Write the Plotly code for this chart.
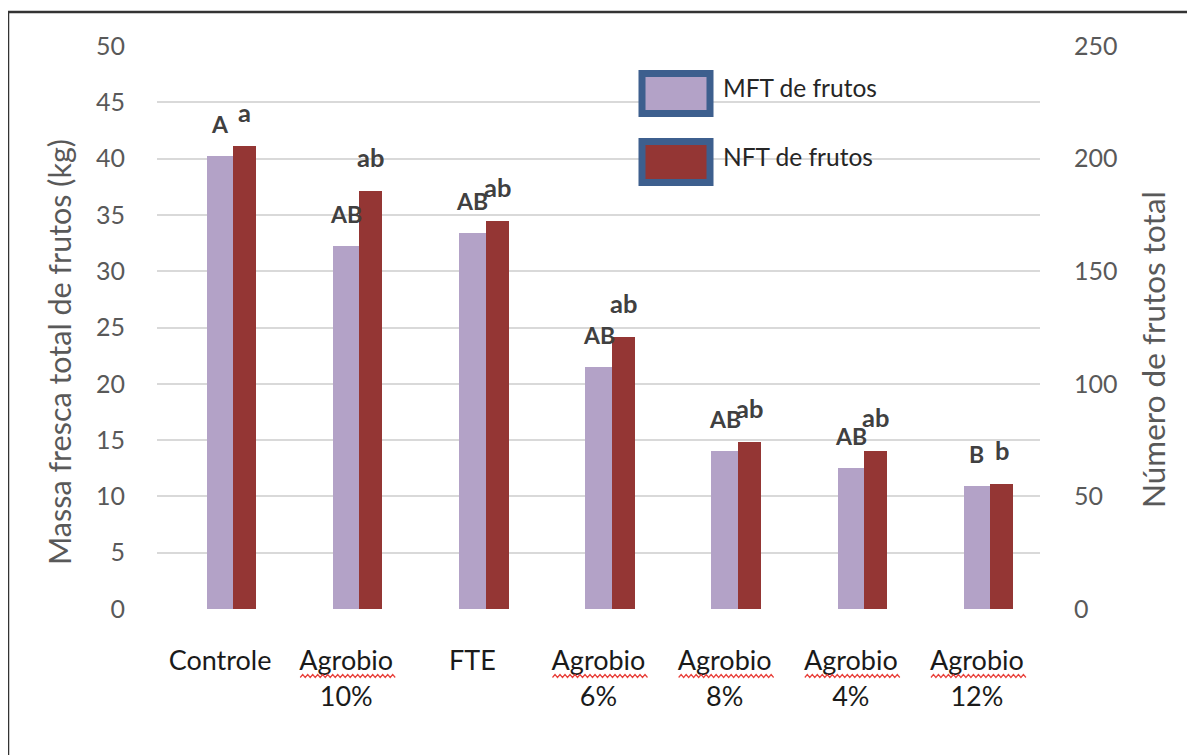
import plotly.graph_objects as go

categories = ["Controle", "Agrobio<br>10%", "FTE", "Agrobio<br>6%", "Agrobio<br>8%", "Agrobio<br>4%", "Agrobio<br>12%"]
mft_values = [40.2, 32.2, 33.4, 21.5, 14.0, 12.5, 10.9]          # left axis (kg)
nft_values = [205.7, 185.5, 172.4, 120.6, 74.0, 70.0, 55.6]      # right axis (count)
mft_letters = ["A", "AB", "AB", "AB", "AB", "AB", "B"]
nft_letters = ["a", "ab", "ab", "ab", "ab", "ab", "b"]
series_names = ["MFT de frutos", "NFT de frutos"]
left_ticks = [0, 5, 10, 15, 20, 25, 30, 35, 40, 45, 50]
right_ticks = [0, 50, 100, 150, 200, 250]

W, H = 1195, 755
OFF = 8  # page body margin offset
L, R, T, B = 157, 1040, 46, 609   # target plot area in page pixels
FONT = "Lato"
MFT_COLOR = "#B3A2C7"
NFT_COLOR = "#943634"
MFT_OFF, MFT_W = -0.105, 0.21
NFT_OFF, NFT_W = 0.105, 0.182

def px(x):
    return (x - L) / (R - L)

def py(y):
    return (B - y) / (B - T)

xs = list(range(len(categories)))

fig = go.Figure()
fig.add_trace(go.Bar(x=xs, y=mft_values, name=series_names[0], marker=dict(color=MFT_COLOR, line=dict(width=0)),
                     offset=MFT_OFF, width=MFT_W, yaxis="y", showlegend=False))
fig.add_trace(go.Bar(x=xs, y=nft_values, name=series_names[1], marker=dict(color=NFT_COLOR, line=dict(width=0)),
                     offset=NFT_OFF, width=NFT_W, yaxis="y2", showlegend=False))

annotations = []
for i in xs:
    annotations.append(dict(x=i + MFT_OFF + MFT_W / 2, y=mft_values[i], xref="x", yref="y", text=mft_letters[i],
                            showarrow=False, xanchor="center", yanchor="bottom", yshift=16,
                            font=dict(family=FONT, size=23, color="#404040", weight="bold")))
    annotations.append(dict(x=i + NFT_OFF + NFT_W / 2, y=nft_values[i], xref="x", yref="y2", text=nft_letters[i],
                            showarrow=False, xanchor="center", yanchor="bottom", yshift=17,
                            font=dict(family=FONT, size=25.5, color="#404040", weight="bold")))

# axis titles
annotations.append(dict(x=px(59), y=py(352), xref="paper", yref="paper", text="Massa fresca total de frutos (kg)",
                        textangle=-90, showarrow=False, xanchor="center", yanchor="middle",
                        font=dict(family=FONT, size=30.5, color="#595959")))
annotations.append(dict(x=px(1153), y=py(350), xref="paper", yref="paper", text="Número de frutos total",
                        textangle=-90, showarrow=False, xanchor="center", yanchor="middle",
                        font=dict(family=FONT, size=31.5, color="#595959")))

# legend (custom large swatches)
shapes = []
leg = [(series_names[0], MFT_COLOR, 70, 117, 87), (series_names[1], NFT_COLOR, 138, 186, 157)]
for name, col, y0, y1, yc in leg:
    shapes.append(dict(type="rect", xref="paper", yref="paper", x0=px(642), x1=px(710), y0=py(y1 - 3.5), y1=py(y0 + 3.5),
                       fillcolor=col, line=dict(color="#3D5F8E", width=7), layer="above"))
    annotations.append(dict(x=px(721), y=py(yc), xref="paper", yref="paper", text=name, xanchor="left",
                            yanchor="middle", showarrow=False, font=dict(family=FONT, size=24.5, color="#262626")))

# outer border
shapes.append(dict(type="rect", xref="paper", yref="paper", x0=px(8), x1=px(1215), y0=py(775), y1=py(12),
                   line=dict(color="#333333", width=2.5), fillcolor="rgba(0,0,0,0)"))

# spell-check squiggles under "Agrobio"
cat_w = (R - L) / len(categories)
for i, c in enumerate(categories):
    if c.startswith("Agrobio"):
        cx = L + cat_w * (i + 0.5) + 2
        x0 = cx - 48
        pts = []
        k = 0
        x = x0
        while x <= cx + 48:
            yy = 676 + (1.5 if k % 2 == 0 else -1.5)
            pts.append((x, yy))
            x += 2.5
            k += 1
        path = "M " + " L ".join(f"{px(a):.5f},{py(b):.5f}" for a, b in pts)
        shapes.append(dict(type="path", xref="paper", yref="paper", path=path,
                           line=dict(color="#E8403A", width=1.2)))

fig.update_layout(
    width=W, height=H,
    margin=dict(l=L - OFF, r=W - R + OFF, t=T - OFF, b=H - B + OFF),
    paper_bgcolor="white", plot_bgcolor="white",
    bargap=0, barmode="overlay",
    font=dict(family=FONT),
    xaxis=dict(type="linear", range=[-0.5, len(categories) - 0.5], tickmode="array", tickvals=xs, ticktext=categories,
               showgrid=False, zeroline=False, showline=False,
               ticks="outside", ticklen=28, tickcolor="rgba(0,0,0,0)",
               tickfont=dict(family=FONT, size=27, color="#1a1a1a")),
    yaxis=dict(range=[0, 50], tickvals=left_ticks, showgrid=True, gridcolor="#D9D9D9", gridwidth=2,
               zeroline=False, showline=False, ticks="outside", ticklen=26, tickcolor="rgba(0,0,0,0)",
               tickfont=dict(family=FONT, size=25, color="#595959")),
    yaxis2=dict(range=[0, 250], tickvals=right_ticks, overlaying="y", side="right", showgrid=False,
                zeroline=False, showline=False, ticks="outside", ticklen=28, tickcolor="rgba(0,0,0,0)",
                tickfont=dict(family=FONT, size=25, color="#595959")),
    annotations=annotations,
    shapes=shapes,
)

fig.write_html("out.html")
